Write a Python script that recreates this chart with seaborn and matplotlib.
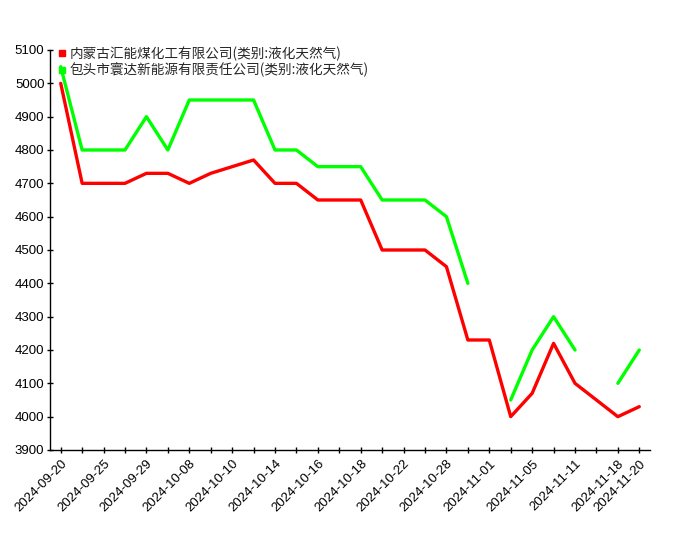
import numpy as np
import pandas as pd
import seaborn as sns
import matplotlib.pyplot as plt
from matplotlib.lines import Line2D

# === Data ===
dates = [
    '2024-09-20', '2024-09-23', '2024-09-25', '2024-09-27', '2024-09-29',
    '2024-09-30', '2024-10-08', '2024-10-09', '2024-10-10', '2024-10-11',
    '2024-10-14', '2024-10-15', '2024-10-16', '2024-10-17', '2024-10-18',
    '2024-10-21', '2024-10-22', '2024-10-25', '2024-10-28', '2024-10-30',
    '2024-11-01', '2024-11-04', '2024-11-05', '2024-11-07', '2024-11-11',
    '2024-11-14', '2024-11-18', '2024-11-20',
]
labeled_dates = [
    '2024-09-20', '2024-09-25', '2024-09-29', '2024-10-08', '2024-10-10',
    '2024-10-14', '2024-10-16', '2024-10-18', '2024-10-22', '2024-10-28',
    '2024-11-01', '2024-11-05', '2024-11-11', '2024-11-18', '2024-11-20',
]
series_names = [
    '内蒙古汇能煤化工有限公司(类别:液化天然气)',
    '包头市寰达新能源有限责任公司(类别:液化天然气)',
]
price_huineng = [
    5000, 4700, 4700, 4700, 4730, 4730, 4700, 4730, 4750, 4770,
    4700, 4700, 4650, 4650, 4650, 4500, 4500, 4500, 4450, 4230,
    4230, 4000, 4070, 4220, 4100, 4050, 4000, 4030,
]
price_huanda = [
    5050, 4800, 4800, 4800, 4900, 4800, 4950, 4950, 4950, 4950,
    4800, 4800, 4750, 4750, 4750, 4650, 4650, 4650, 4600, 4400,
    np.nan, 4050, 4200, 4300, 4200, np.nan, 4100, 4200,
]
colors = ['#ff0000', '#00ff00']

# === Build long table, split at gaps so lines break ===
rows = []
for name, vals in zip(series_names, [price_huineng, price_huanda]):
    seg = 0
    for i, v in enumerate(vals):
        if np.isnan(v):
            seg += 1
            continue
        rows.append({'idx': i, 'price': v, 'series': name, 'seg': f'{name}_{seg}'})
df = pd.DataFrame(rows)

# === Style ===
sns.set_style('ticks')
plt.rcParams['font.family'] = ['Liberation Sans', 'Noto Sans CJK SC', 'DejaVu Sans']

fig = plt.figure(figsize=(7, 5.5), dpi=100)
ax = fig.add_axes([50 / 700, 100 / 550, 600 / 700, 400 / 550])

sns.lineplot(data=df, x='idx', y='price', hue='series', units='seg', estimator=None,
             palette=colors, linewidth=2.4, legend=False, ax=ax)

ax.set_xlim(-0.5, len(dates) - 0.5)
ax.set_ylim(3900, 5100)
ax.set_yticks(range(3900, 5101, 100))
ax.set_xticks(range(len(dates)))
ax.set_xticklabels([d if d in labeled_dates else '' for d in dates],
                   rotation=45, ha='right', rotation_mode='anchor', fontsize=9.5)
ax.tick_params(axis='y', labelsize=9.5, length=5, width=1, direction='inout', pad=1.5, colors='black')
ax.tick_params(axis='x', length=5, width=1, direction='inout', pad=3, colors='black')
ax.set_xlabel('')
ax.set_ylabel('')
sns.despine(ax=ax)
for s in ['left', 'bottom']:
    ax.spines[s].set_color('black')
    ax.spines[s].set_linewidth(1)

handles = [Line2D([], [], marker='s', linestyle='', color=c, markersize=5) for c in colors]
ax.legend(handles, series_names, loc='upper left', bbox_to_anchor=(0.0, 1.03),
          frameon=False, handlelength=0.6, handletextpad=0.25,
          labelspacing=0.15, borderaxespad=0.2,
          prop={'family': ['Noto Sans CJK SC', 'DejaVu Sans'], 'size': 9.8})

fig.savefig('out.png', dpi=100)
